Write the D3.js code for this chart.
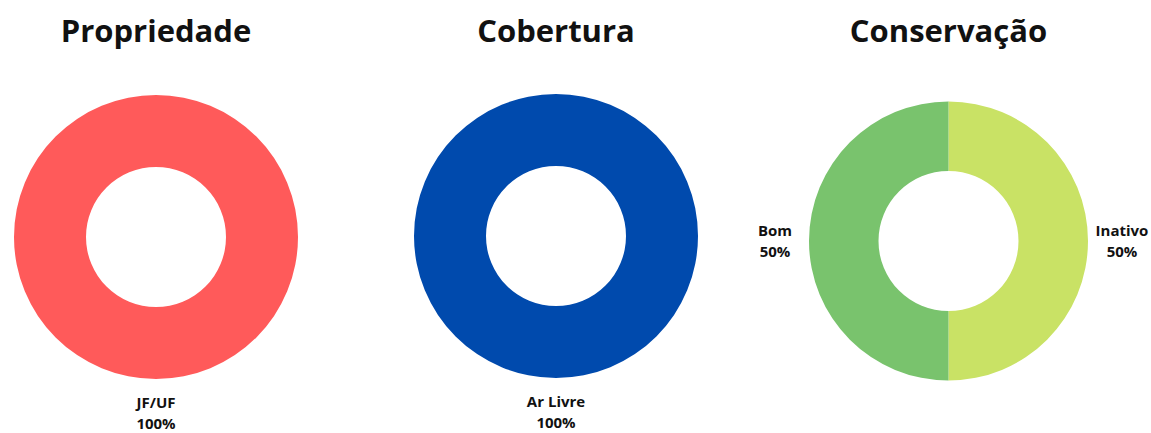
<!DOCTYPE html>
<html>
<head>
<meta charset="utf-8">
<script src="https://cdn.jsdelivr.net/npm/d3@7"></script>
<style>
  html, body { margin: 0; padding: 0; background: #fff; }
  svg { display: block; font-family: 'Open Sans', sans-serif; }
</style>
</head>
<body>
<svg id="chart" width="1151" height="433"></svg>
<script>
// chart data
const titles = ['Propriedade', 'Cobertura', 'Conservação'];
const propriedadeLabels = ['JF/UF'];
const propriedadeValues = [100];
const coberturaLabels = ['Ar Livre'];
const coberturaValues = [100];
const conservacaoLabels = ['Inativo', 'Bom'];
const conservacaoValues = [50, 50];

const propriedadeColors = ['#ff5a5a'];
const coberturaColors = ['#004aad'];
const conservacaoColors = ['#c9e265', '#79c36d'];

const svg = d3.select('#chart');

// layout per donut
const panels = [
  { title: titles[0], labels: propriedadeLabels, values: propriedadeValues, colors: propriedadeColors, cx: 156, cy: 237, r: 142, ri: 70 },
  { title: titles[1], labels: coberturaLabels, values: coberturaValues, colors: coberturaColors, cx: 556, cy: 236, r: 142, ri: 70 },
  { title: titles[2], labels: conservacaoLabels, values: conservacaoValues, colors: conservacaoColors, cx: 948.5, cy: 241, r: 139.5, ri: 70 },
];

const pie = d3.pie().sort(null).value(d => d.value);

panels.forEach(p => {
  // title
  svg.append('text')
    .attr('x', p.cx)
    .attr('y', 42)
    .attr('text-anchor', 'middle')
    .style('font-size', '31px')
    .style('font-weight', 700)
    .style('fill', '#111')
    .text(p.title);

  const g = svg.append('g')
    .attr('transform', `translate(${p.cx},${p.cy})`);

  const data = p.labels.map((l, i) => ({ label: l, value: p.values[i], color: p.colors[i] }));
  const arcs = pie(data);
  const arc = d3.arc().innerRadius(p.ri).outerRadius(p.r);
  const labelRadius = p.r + 34;

  g.selectAll('path')
    .data(arcs)
    .enter()
    .append('path')
    .attr('d', arc)
    .style('fill', d => d.data.color);

  const total = d3.sum(p.values);

  const lab = g.selectAll('g.lbl')
    .data(arcs)
    .enter()
    .append('g')
    .attr('class', 'lbl')
    .attr('transform', d => {
      const a = (d.startAngle + d.endAngle) / 2;
      return `translate(${Math.sin(a) * labelRadius},${-Math.cos(a) * labelRadius})`;
    });

  lab.append('text')
    .attr('text-anchor', 'middle')
    .attr('y', -5)
    .style('font-size', '15px')
    .style('font-weight', 700)
    .style('fill', '#111')
    .text(d => d.data.label);

  lab.append('text')
    .attr('text-anchor', 'middle')
    .attr('y', 16)
    .style('font-size', '15px')
    .style('font-weight', 700)
    .style('fill', '#111')
    .text(d => Math.round(d.data.value / total * 100) + '%');
});
</script>
</body>
</html>
